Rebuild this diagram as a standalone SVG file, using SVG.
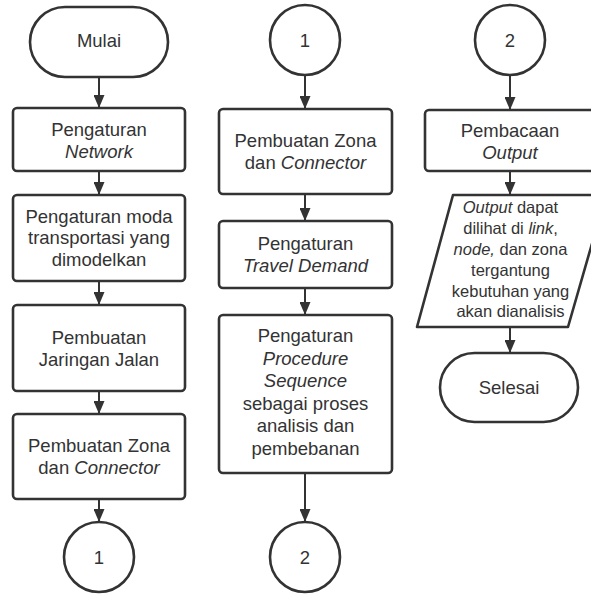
<svg xmlns="http://www.w3.org/2000/svg" width="591" height="595" viewBox="0 0 591 595">
<defs>
<style>
.s{fill:#fff;stroke:#333;stroke-width:2.6}
.t{font-family:"Liberation Sans",Arial,sans-serif;font-size:18.5px;fill:#333;text-anchor:middle}
.p{font-size:16.5px}
.c line{stroke:#333;stroke-width:2}
i,.i{font-style:italic}
</style>
<marker id="ah" markerUnits="userSpaceOnUse" markerWidth="13" markerHeight="11" refX="13" refY="5.5" orient="auto">
<path d="M0,0 L13,5.5 L0,11 z" fill="#333"/>
</marker>
</defs>
<rect width="591" height="595" fill="#fff"/>
<g class="c" id="connectors">
<line x1="99" y1="77" x2="99" y2="108" marker-end="url(#ah)"/>
<line x1="99" y1="171" x2="99" y2="195" marker-end="url(#ah)"/>
<line x1="99" y1="281" x2="99" y2="305" marker-end="url(#ah)"/>
<line x1="99" y1="391" x2="99" y2="414" marker-end="url(#ah)"/>
<line x1="99" y1="499" x2="99" y2="522" marker-end="url(#ah)"/>
<line x1="305" y1="75" x2="305" y2="109" marker-end="url(#ah)"/>
<line x1="305" y1="194" x2="305" y2="221" marker-end="url(#ah)"/>
<line x1="305" y1="288" x2="305" y2="315" marker-end="url(#ah)"/>
<line x1="305" y1="473" x2="305" y2="522" marker-end="url(#ah)"/>
<line x1="510" y1="75" x2="510" y2="110" marker-end="url(#ah)"/>
<line x1="510" y1="171" x2="510" y2="195" marker-end="url(#ah)"/>
<line x1="510" y1="327" x2="510" y2="353" marker-end="url(#ah)"/>
</g>
<g id="mulai">
<rect class="s" x="30" y="7" width="138" height="70" rx="35"/>
<text class="t" x="99" y="47">Mulai</text>
</g>
<g id="network">
<rect class="s" x="13" y="108" width="172" height="63" rx="4"/>
<text class="t" x="99" y="135.5">Pengaturan</text>
<text class="t i" x="99" y="157.5">Network</text>
</g>
<g id="moda">
<rect class="s" x="13" y="195" width="172" height="86" rx="4"/>
<text class="t" x="99" y="222.5">Pengaturan moda</text>
<text class="t" x="99" y="244">transportasi yang</text>
<text class="t" x="99" y="265.5">dimodelkan</text>
</g>
<g id="jaringan">
<rect class="s" x="13" y="305" width="172" height="86" rx="4"/>
<text class="t" x="99" y="343.5">Pembuatan</text>
<text class="t" x="99" y="365.5">Jaringan Jalan</text>
</g>
<g id="zona1">
<rect class="s" x="13" y="414" width="172" height="85" rx="4"/>
<text class="t" x="99" y="452">Pembuatan Zona</text>
<text class="t" x="99" y="474">dan <tspan class="i">Connector</tspan></text>
</g>
<g id="c1a">
<circle class="s" cx="99" cy="557" r="35"/>
<text class="t" x="99" y="563.5">1</text>
</g>
<g id="c1b">
<circle class="s" cx="305" cy="40" r="35"/>
<text class="t" x="305" y="46.5">1</text>
</g>
<g id="zona2">
<rect class="s" x="219" y="109" width="173" height="85" rx="4"/>
<text class="t" x="305.5" y="147">Pembuatan Zona</text>
<text class="t" x="305.5" y="169">dan <tspan class="i">Connector</tspan></text>
</g>
<g id="travel">
<rect class="s" x="219" y="221" width="173" height="67" rx="4"/>
<text class="t" x="305.5" y="250">Pengaturan</text>
<text class="t i" x="305.5" y="272">Travel Demand</text>
</g>
<g id="procedure">
<rect class="s" x="219" y="315" width="173" height="158" rx="4"/>
<text class="t" x="305.5" y="342">Pengaturan</text>
<text class="t i" x="305.5" y="364.5">Procedure</text>
<text class="t i" x="305.5" y="387">Sequence</text>
<text class="t" x="305.5" y="409.5">sebagai proses</text>
<text class="t" x="305.5" y="432">analisis dan</text>
<text class="t" x="305.5" y="454.5">pembebanan</text>
</g>
<g id="c2a">
<circle class="s" cx="305" cy="557" r="35"/>
<text class="t" x="305" y="563.5">2</text>
</g>
<g id="c2b">
<circle class="s" cx="510" cy="40" r="35"/>
<text class="t" x="510" y="46.5">2</text>
</g>
<g id="pembacaan">
<rect class="s" x="425" y="110" width="172" height="61" rx="4"/>
<text class="t" x="510" y="137">Pembacaan</text>
<text class="t i" x="510" y="159">Output</text>
</g>
<g id="output">
<path class="s" d="M453,195 L606,195 L568,327 L417,327 Z" stroke-linejoin="round"/>
<text class="t p" x="510.5" y="213"><tspan class="i">Output</tspan> dapat</text>
<text class="t p" x="510.5" y="234">dilihat di <tspan class="i">link</tspan>,</text>
<text class="t p" x="510.5" y="255"><tspan class="i">node,</tspan> dan zona</text>
<text class="t p" x="510.5" y="275.5">tergantung</text>
<text class="t p" x="510.5" y="296.5">kebutuhan yang</text>
<text class="t p" x="510.5" y="317">akan dianalisis</text>
</g>
<g id="selesai">
<rect class="s" x="440" y="353" width="138" height="69" rx="34.5"/>
<text class="t" x="509" y="394">Selesai</text>
</g>
</svg>
